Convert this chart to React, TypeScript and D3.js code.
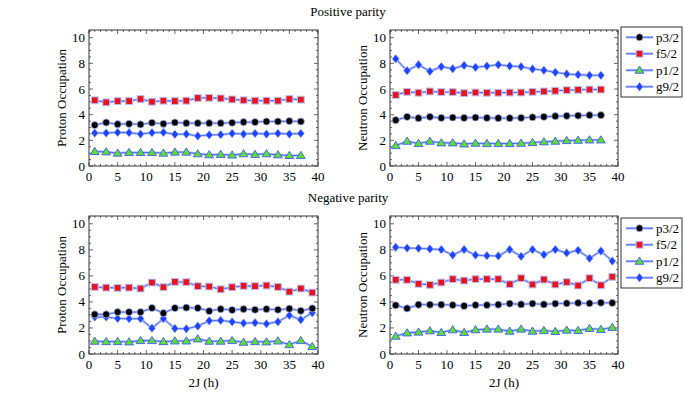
import * as d3 from 'd3';

// 2J values (odd spins)
const jPositive = [1, 3, 5, 7, 9, 11, 13, 15, 17, 19, 21, 23, 25, 27, 29, 31, 33, 35, 37];
const jNegative = [1, 3, 5, 7, 9, 11, 13, 15, 17, 19, 21, 23, 25, 27, 29, 31, 33, 35, 37, 39];

const orbitals = ['p3/2', 'f5/2', 'p1/2', 'g9/2'];

// positive parity, protons
const protonPosP32 = [3.19, 3.39, 3.26, 3.29, 3.24, 3.37, 3.29, 3.39, 3.34, 3.34, 3.34, 3.34, 3.37, 3.42, 3.42, 3.47, 3.47, 3.5, 3.47];
const protonPosF52 = [5.12, 4.96, 5.06, 5.06, 5.22, 5.01, 5.09, 5.06, 5.09, 5.3, 5.32, 5.27, 5.19, 5.12, 5.09, 5.09, 5.09, 5.22, 5.17];
const protonPosP12 = [1.13, 1.1, 1.0, 1.05, 1.05, 1.05, 1.0, 1.08, 1.08, 0.95, 0.87, 0.9, 0.85, 0.95, 0.9, 0.95, 0.87, 0.82, 0.82];
const protonPosG92 = [2.57, 2.57, 2.62, 2.6, 2.49, 2.6, 2.62, 2.47, 2.49, 2.34, 2.42, 2.44, 2.54, 2.49, 2.54, 2.49, 2.54, 2.49, 2.54];

// positive parity, neutrons
const neutronPosP32 = [3.57, 3.83, 3.73, 3.83, 3.75, 3.78, 3.75, 3.78, 3.75, 3.73, 3.73, 3.75, 3.8, 3.83, 3.88, 3.91, 3.93, 3.96, 3.96];
const neutronPosF52 = [5.53, 5.78, 5.71, 5.81, 5.76, 5.76, 5.68, 5.73, 5.71, 5.71, 5.73, 5.73, 5.78, 5.81, 5.86, 5.91, 5.94, 5.96, 5.96];
const neutronPosP12 = [1.59, 1.93, 1.75, 1.93, 1.8, 1.8, 1.72, 1.77, 1.75, 1.75, 1.75, 1.77, 1.83, 1.88, 1.93, 1.98, 2.0, 2.03, 2.03];
const neutronPosG92 = [8.35, 7.43, 7.89, 7.38, 7.74, 7.58, 7.84, 7.69, 7.79, 7.89, 7.79, 7.74, 7.56, 7.46, 7.3, 7.17, 7.12, 7.07, 7.07];

// negative parity, protons
const protonNegP32 = [3.04, 3.04, 3.22, 3.22, 3.22, 3.53, 3.14, 3.53, 3.56, 3.53, 3.3, 3.45, 3.38, 3.45, 3.4, 3.45, 3.4, 3.48, 3.32, 3.5];
const protonNegF52 = [5.15, 5.1, 5.08, 5.1, 5.03, 5.49, 5.13, 5.54, 5.52, 5.21, 5.18, 4.97, 5.13, 5.23, 5.21, 5.26, 5.15, 4.79, 5.03, 4.72];
const protonNegP12 = [0.98, 0.95, 0.95, 0.93, 1.03, 1.03, 0.95, 1.0, 1.0, 1.16, 0.98, 0.98, 1.03, 0.9, 0.95, 0.93, 1.0, 0.72, 1.03, 0.57];
const protonNegG92 = [2.84, 2.84, 2.73, 2.71, 2.71, 1.98, 2.71, 1.96, 1.93, 2.14, 2.55, 2.58, 2.47, 2.37, 2.4, 2.32, 2.47, 2.96, 2.63, 3.17];

// negative parity, neutrons
const neutronNegP32 = [3.74, 3.5, 3.79, 3.79, 3.79, 3.76, 3.69, 3.76, 3.76, 3.79, 3.87, 3.81, 3.87, 3.81, 3.87, 3.89, 3.92, 3.89, 3.94, 3.92];
const neutronNegF52 = [5.7, 5.7, 5.39, 5.31, 5.49, 5.75, 5.64, 5.75, 5.75, 5.75, 5.36, 5.82, 5.34, 5.72, 5.34, 5.52, 5.26, 5.82, 5.28, 5.93];
const neutronNegP12 = [1.37, 1.62, 1.68, 1.78, 1.65, 1.86, 1.65, 1.86, 1.91, 1.91, 1.75, 1.91, 1.75, 1.8, 1.73, 1.83, 1.8, 1.96, 1.88, 2.04];
const neutronNegG92 = [8.2, 8.14, 8.12, 8.07, 8.02, 7.6, 8.02, 7.6, 7.55, 7.53, 8.02, 7.5, 8.02, 7.63, 8.02, 7.76, 7.96, 7.35, 7.91, 7.14];

const xTicks = [0, 5, 10, 15, 20, 25, 30, 35, 40];
const yTicks = [0, 2, 4, 6, 8, 10];

const FONT = 'Liberation Serif, Times New Roman, Times, serif';
const LINE = '#3d5cff';
const HALO = '#b4c2ff';

type Series = { name: string; values: number[] };

function Marker({ kind, x, y }: { kind: string; x: number; y: number }) {
  if (kind === 'p3/2') {
    return <circle cx={x} cy={y} r={3.6} fill="#000" stroke={HALO} strokeWidth={0.8} />;
  }
  if (kind === 'f5/2') {
    return <rect x={x - 3.4} y={y - 3.4} width={6.8} height={6.8} fill="#e8141c" stroke={HALO} strokeWidth={1} />;
  }
  if (kind === 'p1/2') {
    const p = `M${x},${y - 4.2}L${x + 4.4},${y + 3}L${x - 4.4},${y + 3}Z`;
    return <path d={p} fill="#5ee02a" stroke="#3d5cff" strokeWidth={0.9} />;
  }
  const d = `M${x},${y - 4.4}L${x + 3.6},${y}L${x},${y + 4.4}L${x - 3.6},${y}Z`;
  return <path d={d} fill="#1e44ff" stroke={HALO} strokeWidth={0.6} />;
}

function Panel({ left, top, width, height, js, series, yLabel, showXLabel }: {
  left: number; top: number; width: number; height: number;
  js: number[]; series: Series[]; yLabel: string; showXLabel: boolean;
}) {
  const x = d3.scaleLinear().domain([0, 40]).range([left, left + width]);
  const y = d3.scaleLinear().domain([0, 10.6]).range([top + height, top]);
  const line = d3.line<number>().x((_, i) => x(js[i])).y(v => y(v));
  const minorX = d3.range(0, 41, 1);
  const minorY = d3.range(0, 10.6, 0.5);
  const bottom = top + height;
  const right = left + width;
  return (
    <g>
      {minorX.map(t => {
        const major = t % 5 === 0;
        const len = major ? 4 : 2;
        return (
          <g key={'x' + t} stroke="#444" strokeWidth={0.8}>
            <line x1={x(t)} x2={x(t)} y1={bottom} y2={bottom - len} />
            <line x1={x(t)} x2={x(t)} y1={top} y2={top + len} />
          </g>
        );
      })}
      {minorY.map(t => {
        const major = t % 2 === 0;
        const len = major ? 4 : 2;
        return (
          <g key={'y' + t} stroke="#444" strokeWidth={0.8}>
            <line x1={left} x2={left + len} y1={y(t)} y2={y(t)} />
            <line x1={right} x2={right - len} y1={y(t)} y2={y(t)} />
          </g>
        );
      })}
      <rect x={left} y={top} width={width} height={height} fill="none" stroke="#333" strokeWidth={1} />
      {xTicks.map(t => (
        <text key={'xl' + t} x={x(t)} y={bottom + 15} textAnchor="middle" fontSize={13} fontFamily={FONT}>{t}</text>
      ))}
      {yTicks.map(t => (
        <text key={'yl' + t} x={left - 4} y={y(t) + 4.5} textAnchor="end" fontSize={13} fontFamily={FONT}>{t}</text>
      ))}
      <text transform={`translate(${left - 23},${(top + bottom) / 2}) rotate(-90)`} textAnchor="middle"
        fontSize={13} fontFamily={FONT}>{yLabel}</text>
      {showXLabel && (
        <text x={(left + right) / 2} y={bottom + 33} textAnchor="middle" fontSize={13} fontFamily={FONT}>2J (h)</text>
      )}
      {series.map(s => (
        <g key={s.name}>
          <path d={line(s.values) || ''} fill="none" stroke={HALO} strokeWidth={2.6} />
          <path d={line(s.values) || ''} fill="none" stroke={LINE} strokeWidth={0.9} />
          {s.values.map((v, i) => (
            <Marker key={i} kind={s.name} x={x(js[i])} y={y(v)} />
          ))}
        </g>
      ))}
    </g>
  );
}

function Legend({ left, top }: { left: number; top: number }) {
  const row = d3.scaleBand().domain(orbitals).range([top + 2, top + 68]);
  return (
    <g>
      <rect x={left} y={top} width={61} height={70} fill="#fff" stroke="#333" strokeWidth={1} />
      {orbitals.map(name => {
        const cy = (row(name) || 0) + row.bandwidth() / 2;
        return (
          <g key={name}>
            <line x1={left + 5} x2={left + 32} y1={cy} y2={cy} stroke={HALO} strokeWidth={2.6} />
            <line x1={left + 5} x2={left + 32} y1={cy} y2={cy} stroke={LINE} strokeWidth={0.9} />
            <Marker kind={name} x={left + 18.5} y={cy} />
            <text x={left + 35} y={cy + 4.5} fontSize={13} fontFamily={FONT}>{name}</text>
          </g>
        );
      })}
    </g>
  );
}

export default function App() {
  const posProton: Series[] = [
    { name: 'f5/2', values: protonPosF52 },
    { name: 'p3/2', values: protonPosP32 },
    { name: 'g9/2', values: protonPosG92 },
    { name: 'p1/2', values: protonPosP12 },
  ];
  const posNeutron: Series[] = [
    { name: 'g9/2', values: neutronPosG92 },
    { name: 'f5/2', values: neutronPosF52 },
    { name: 'p3/2', values: neutronPosP32 },
    { name: 'p1/2', values: neutronPosP12 },
  ];
  const negProton: Series[] = [
    { name: 'f5/2', values: protonNegF52 },
    { name: 'g9/2', values: protonNegG92 },
    { name: 'p3/2', values: protonNegP32 },
    { name: 'p1/2', values: protonNegP12 },
  ];
  const negNeutron: Series[] = [
    { name: 'g9/2', values: neutronNegG92 },
    { name: 'f5/2', values: neutronNegF52 },
    { name: 'p3/2', values: neutronNegP32 },
    { name: 'p1/2', values: neutronNegP12 },
  ];
  return (
    <svg width={685} height={399} style={{ position: 'absolute', left: 0, top: 0, background: '#fff' }}>
      <rect width={685} height={399} fill="#fff" />
      <text x={348} y={16} textAnchor="middle" fontSize={13} fontFamily={FONT}>Positive parity</text>
      <text x={348} y={202} textAnchor="middle" fontSize={13} fontFamily={FONT}>Negative parity</text>
      <Panel left={89} top={30} width={229} height={136} js={jPositive} series={posProton} yLabel="Proton Occupation" showXLabel={false} />
      <Panel left={390} top={30} width={228} height={136} js={jPositive} series={posNeutron} yLabel="Neutron Occupation" showXLabel={false} />
      <Panel left={89} top={216} width={229} height={138} js={jNegative} series={negProton} yLabel="Proton Occupation" showXLabel={true} />
      <Panel left={390} top={216} width={228} height={138} js={jNegative} series={negNeutron} yLabel="Neutron Occupation" showXLabel={true} />
      <Legend left={621} top={27} />
      <Legend left={621} top={218} />
    </svg>
  );
}
